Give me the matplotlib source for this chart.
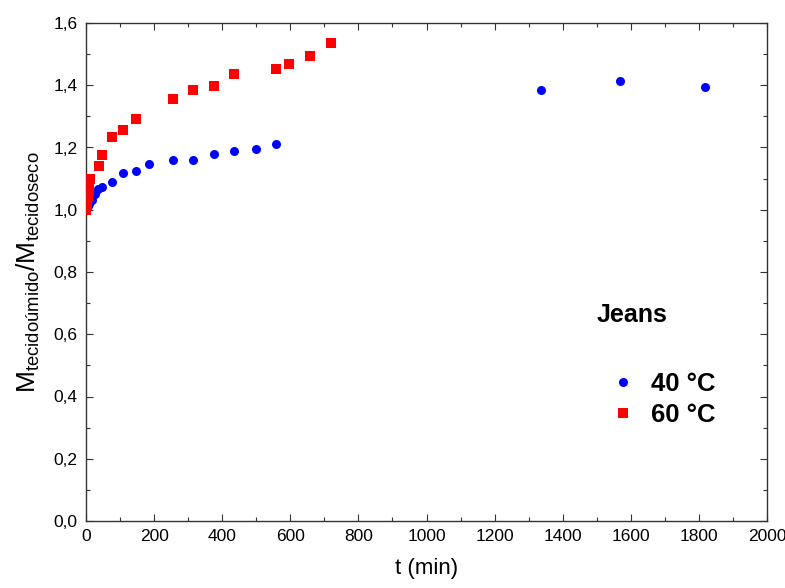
import matplotlib
matplotlib.use("Agg")
import matplotlib.pyplot as plt
from matplotlib.ticker import MultipleLocator, FuncFormatter

plt.rcParams["font.family"] = ["Liberation Sans", "DejaVu Sans"]
plt.rcParams["mathtext.fontset"] = "custom"
plt.rcParams["mathtext.rm"] = "Liberation Sans"

# Jeans - absorção de água a 40 °C e 60 °C
t_40 = [0, 5, 10, 18, 26, 36, 46, 77, 110, 146, 186, 256, 315, 376, 436, 498, 557,
        1337, 1569, 1817]
m_40 = [1.000, 1.012, 1.020, 1.031, 1.050, 1.066, 1.072, 1.090, 1.119, 1.126, 1.148,
        1.160, 1.160, 1.178, 1.190, 1.195, 1.212, 1.385, 1.413, 1.395]

t_60 = [0, 2, 4, 6, 8, 10, 12, 39, 48, 77, 110, 146, 256, 315, 376, 436, 557, 597,
        658, 720]
m_60 = [1.000, 1.015, 1.030, 1.045, 1.060, 1.075, 1.100, 1.142, 1.176, 1.235, 1.257,
        1.292, 1.356, 1.384, 1.398, 1.437, 1.452, 1.467, 1.494, 1.535]

fig = plt.figure(figsize=(7.85, 5.88), dpi=100)
ax = fig.add_axes([86 / 785, 1 - 521 / 588, 681 / 785, 498 / 588])

l40, = ax.plot(t_40, m_40, "o", color="#0000ff", markersize=6.5, markeredgewidth=0,
               label="40 °C", zorder=3)
l60, = ax.plot(t_60, m_60, "s", color="#ff0000", markersize=6.5, markeredgewidth=0,
               label="60 °C", zorder=3)

ax.set_xlim(0, 2000)
ax.set_ylim(0, 1.6)
ax.xaxis.set_major_locator(MultipleLocator(200))
ax.xaxis.set_minor_locator(MultipleLocator(100))
ax.yaxis.set_major_locator(MultipleLocator(0.2))
ax.yaxis.set_minor_locator(MultipleLocator(0.1))
ax.yaxis.set_major_formatter(FuncFormatter(lambda v, p: f"{v:.1f}".replace(".", ",")))

ax.tick_params(which="both", direction="in", top=True, right=True, width=0.8,
               color="#333333")
ax.tick_params(which="major", length=5, labelsize=12.5, pad=6)
ax.tick_params(which="minor", length=3)
for s in ax.spines.values():
    s.set_linewidth(1.0)
    s.set_color("#333333")

ax.set_xlabel("t (min)", fontsize=16, labelpad=10)
ax.set_ylabel(r"$\mathregular{M_{tecidoúmido}/M_{tecidoseco}}$", fontsize=19, labelpad=8)

fig.text(597 / 785, 1 - 315 / 588, "Jeans", fontsize=18, fontweight="bold",
         va="center", ha="left")
ax.legend(handles=[l40, l60], loc="upper left", frameon=False,
          bbox_to_anchor=(597 / 785, 1 - 359 / 588), bbox_transform=fig.transFigure,
          prop={"size": 18.5, "weight": "bold"}, handlelength=1.0,
          handletextpad=0.62, labelspacing=0.27, borderpad=0)

fig.savefig("out.png", dpi=100)
